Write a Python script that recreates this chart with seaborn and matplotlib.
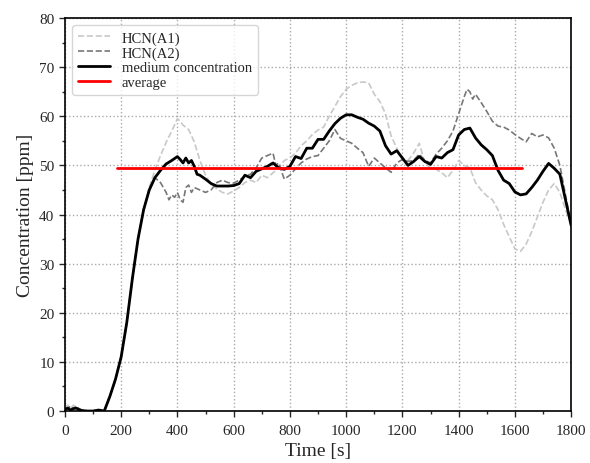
import numpy as np
import pandas as pd
import seaborn as sns
import matplotlib
matplotlib.use('Agg')
import matplotlib.pyplot as plt
from matplotlib.ticker import MultipleLocator

# medium concentration (black)
t_mid=[0,10,20,30,40,50,60,80,100,120,140,160,180,200,220,240,260,280,300,320,340,360,380,400,410,420,430,440,450,460,470,480,500,520,540,560,580,600,620,640,660,680,700,720,740,760,780,800,820,840,860,880,900,920,940,960,980,1000,1020,1040,1060,1080,1100,1120,1140,1160,1180,1200,1220,1240,1260,1280,1300,1320,1340,1360,1380,1400,1420,1440,1460,1480,1500,1520,1540,1560,1580,1600,1620,1640,1660,1680,1700,1720,1740,1760,1780,1800]
c_mid=[0.3,0.6,0.2,0.5,0.6,0.3,0.1,0,0,0.2,0,3,6.5,11,18,27,35,41,45,47.5,49,50.3,51,51.8,51.2,50.5,51.5,50.5,51,49.8,48.2,48,47.2,46.3,45.8,45.8,45.8,45.9,46.3,48,47.5,48.8,49.3,49.8,50.5,49.5,49.2,49.8,51.8,51.4,53.5,53.5,55.3,55.3,57,58.5,59.6,60.3,60.3,59.8,59.4,58.6,58,57,54,52.3,53,51.5,50,50.8,51.8,50.8,50.2,51.8,51.5,52.6,53.2,56.2,57.3,57.6,55.6,54.2,53.2,52,49,47,46.3,44.6,44,44.2,45.5,47,48.8,50.4,49.4,48.2,43,37.8]

# HCN(A1)
t_a1=[0,10,20,30,40,50,60,80,100,120,140,160,180,200,220,240,260,280,300,320,340,360,380,400,410,420,440,460,480,500,520,540,560,580,600,620,640,660,680,700,720,740,760,780,800,820,840,860,880,900,920,940,960,980,1000,1020,1040,1060,1080,1100,1120,1140,1160,1180,1200,1220,1240,1260,1280,1300,1320,1340,1360,1380,1400,1420,1440,1460,1480,1500,1520,1540,1560,1580,1600,1620,1640,1660,1680,1700,1720,1740,1760,1780,1800]
c_a1=[0.8,1.2,0.5,1.2,0.8,0.4,0.2,0,0,0.1,0,3,6.5,11,18,27,35,41,45.5,49,52,54.7,57,59.5,59,58.2,57.3,54.8,51,48,46.2,45.2,44.5,44.2,44.8,45.5,46.5,47,46.5,48,47.5,48.5,49.5,51,51.5,52.5,54,55,56.3,57.2,57.8,60,62,64,65.5,66.3,66.8,67,66.8,64.5,63,60.5,56,53.5,51.5,51,52.5,54.5,50.5,49.5,49.2,48.5,47.5,49,51,50,49.5,46.5,45,43.8,43,41,38,35.5,33,32.5,34,36.5,39.5,42.5,45,46.3,44.5,41,38]

# HCN(A2)
t_a2=[0,10,20,30,40,50,60,80,100,120,140,160,180,200,220,240,260,280,300,320,340,360,370,380,390,400,410,420,430,440,450,460,480,500,520,540,560,580,600,620,640,660,680,700,720,740,750,760,780,800,820,840,860,880,900,920,940,960,980,1000,1020,1040,1060,1080,1100,1120,1140,1160,1180,1200,1220,1240,1260,1280,1300,1320,1340,1360,1380,1400,1420,1430,1440,1450,1460,1480,1500,1520,1540,1560,1580,1600,1620,1640,1660,1680,1700,1720,1740,1760,1780,1800]
c_a2=[0.3,0.5,1.0,0.3,1.0,0.5,0.2,0,0,0.2,0,3,6.5,11,18,27,35,41,45,47.5,46.5,44.5,43,44,43.5,44.5,43,42.5,45.5,46,44.5,45.5,45,44.5,45,46.5,47,46.5,46.4,47,47.8,48.2,49.5,51.5,52,52.5,50,50.5,47.2,48,49.3,50.5,51.3,51.8,52,53.5,55,57.3,55.5,55,54.5,53.5,52.6,49.8,51.5,50.5,49.5,48.6,50.5,51.2,50.8,51,52.3,51,50.5,52.3,53.5,55,57,60.5,64,65.5,65,63.5,64.5,62.8,61,59,58,57.8,57.2,56.3,55.5,54.8,56.5,55.8,56.2,55.6,53.5,50,44,38]

# average
t_avg=[185,1625]
c_avg=[49.4,49.4]

sns.set_style("ticks")
plt.rcParams['font.family']=['Liberation Serif','DejaVu Serif']

fig,ax=plt.subplots(figsize=(5.9,4.64),dpi=100)
fig.subplots_adjust(left=0.110,right=0.968,top=0.959,bottom=0.112)

sns.lineplot(x=t_a1,y=c_a1,ax=ax,color='#c8c8c8',linestyle='--',linewidth=1.2,label='HCN(A1)')
sns.lineplot(x=t_a2,y=c_a2,ax=ax,color='#777777',linestyle='--',linewidth=1.2,label='HCN(A2)')
sns.lineplot(x=t_mid,y=c_mid,ax=ax,color='black',linewidth=2,label='medium concentration')
sns.lineplot(x=t_avg,y=c_avg,ax=ax,color='red',linewidth=2,label='average')

ax.set_xlim(0,1800)
ax.set_ylim(0,80)
ax.xaxis.set_major_locator(MultipleLocator(200))
ax.xaxis.set_minor_locator(MultipleLocator(100))
ax.yaxis.set_major_locator(MultipleLocator(10))
ax.yaxis.set_minor_locator(MultipleLocator(5))
ax.tick_params(which='major',labelsize=11,length=4,width=1)
ax.tick_params(axis='x',which='major',pad=5)
ax.tick_params(which='minor',length=2.5,width=1)
ax.grid(True,which='major',linestyle=':',color='#aaaaaa',linewidth=1)
for s in ax.spines.values():
    s.set_linewidth(1.2)
    s.set_color('black')

ax.set_xlabel('Time [s]',fontsize=14,labelpad=4)
ax.set_ylabel('Concentration [ppm]',fontsize=14,labelpad=4)
ax.legend(loc='upper left',fontsize=10.5,frameon=True,fancybox=True,edgecolor='#cccccc',handlelength=2.2,labelspacing=0.1,borderpad=0.4)

plt.savefig('out.png',dpi=100)
